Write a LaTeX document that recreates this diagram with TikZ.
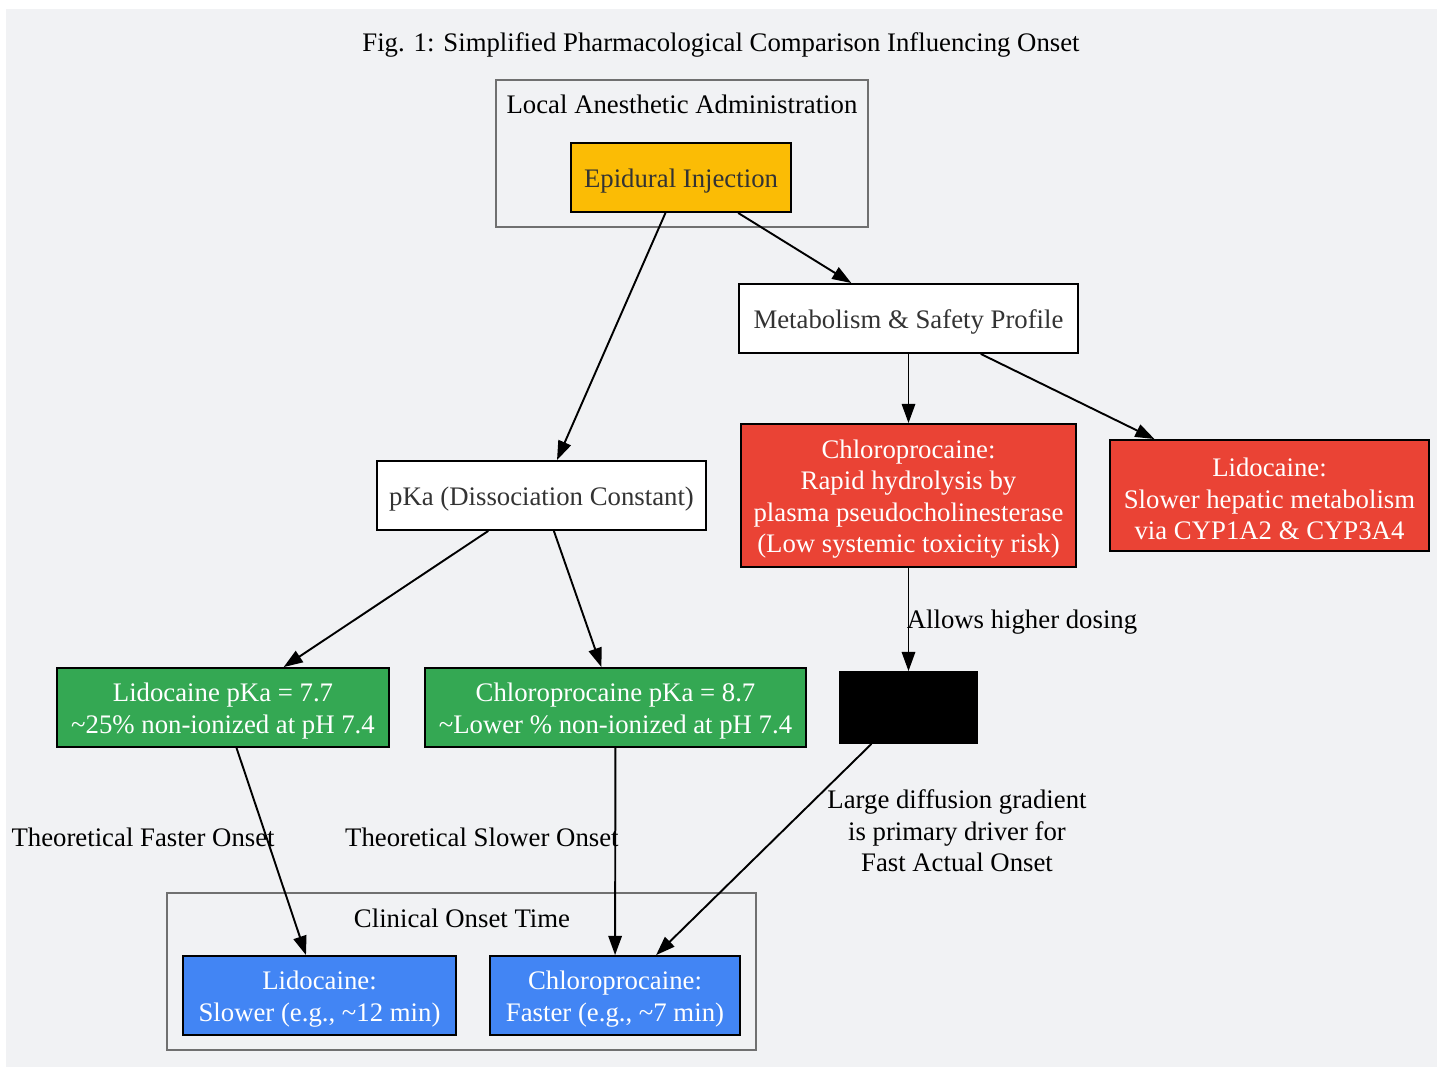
\documentclass[tikz,border=0pt]{standalone}
\usepackage{fontspec}
\setmainfont{Liberation Serif}
\usetikzlibrary{arrows.meta}
\definecolor{bggray}{HTML}{F1F2F4}
\definecolor{clgray}{HTML}{707070}
\definecolor{dtext}{HTML}{333333}
\definecolor{gyellow}{HTML}{FBBC05}
\definecolor{gred}{HTML}{EA4335}
\definecolor{ggreen}{HTML}{34A853}
\definecolor{gblue}{HTML}{4285F4}
% taller first line, so box texts sit a little lower
\newcommand{\hstrut}{\rule{0pt}{13.5pt}}

\begin{document}
\begin{tikzpicture}[x=0.5232pt,y=-0.5232pt,
    font=\fontsize{14}{16.5}\selectfont,
    box/.style={draw=black,line width=1pt,inner sep=0pt,align=center,text=dtext},
    colbox/.style={box,text=white},
    cluster/.style={draw=clgray,line width=1pt},
    lbl/.style={inner sep=0pt,align=center,text=black},
    arr/.style={-{Triangle[length=10pt,width=7pt]},line width=1pt}]
  \useasboundingbox (0,0) rectangle (1445,1067);
  \fill[bggray] (6,9) rectangle (1437,1067);

  \node[lbl] (title) at (721,45) {Fig. 1: Simplified Pharmacological Comparison Influencing Onset};

  % clusters
  \draw[cluster] (496,80) rectangle (868,227);
  \node[lbl] (admin) at (682,104) {Local Anesthetic Administration};
  \draw[cluster] (167,893) rectangle (756,1050);
  \node[lbl] (clin) at (462,918) {Clinical Onset Time};

  % nodes
  \node[box,fill=gyellow,minimum width=115.1pt,minimum height=36.1pt] (epi) at (681,177.5) {\hstrut Epidural Injection};
  \node[box,fill=white,minimum width=177.4pt,minimum height=36.1pt] (meta) at (908.5,318.5) {\hstrut Metabolism \& Safety Profile};
  \node[box,fill=white,minimum width=172.1pt,minimum height=36.1pt] (pka) at (541.5,495.5) {\hstrut pKa (Dissociation Constant)};
  \node[colbox,fill=gred,minimum width=175.3pt,minimum height=74.8pt] (chlmeta) at (908.5,495.5)
    {\hstrut Chloroprocaine:\\Rapid hydrolysis by\\plasma pseudocholinesterase\\(Low systemic toxicity risk)};
  \node[colbox,fill=gred,minimum width=166.9pt,minimum height=58.1pt] (lidmeta) at (1269.5,495.5)
    {\hstrut Lidocaine:\\Slower hepatic metabolism\\via CYP1A2 \& CYP3A4};
  \node[box,fill=black,minimum width=71.7pt,minimum height=37.1pt] (dose) at (908.5,707.5) {};
  \node[colbox,fill=ggreen,minimum width=173.7pt,minimum height=41.3pt] (lidpka) at (223,707.5)
    {\hstrut Lidocaine pKa = 7.7\\\textasciitilde25\% non-ionized at pH 7.4};
  \node[colbox,fill=ggreen,minimum width=199.3pt,minimum height=41.3pt] (chlpka) at (615.5,707.5)
    {\hstrut Chloroprocaine pKa = 8.7\\\textasciitilde Lower \% non-ionized at pH 7.4};
  \node[colbox,fill=gblue,minimum width=142.8pt,minimum height=41.3pt] (lidon) at (319.5,995.5)
    {\hstrut Lidocaine:\\Slower (e.g., \textasciitilde12 min)};
  \node[colbox,fill=gblue,minimum width=130.8pt,minimum height=41.3pt] (chlon) at (615,995.5)
    {\hstrut Chloroprocaine:\\Faster (e.g., \textasciitilde7 min)};

  % edge labels
  \node[lbl] (ldose) at (1022,622) {Allows higher dosing};
  \node[lbl,anchor=east] (lfast) at (275,837) {Theoretical Faster Onset};
  \node[lbl,anchor=east] (lslow) at (619,837) {Theoretical Slower Onset};
  \node[lbl] (lgrad) at (957,831) {Large diffusion gradient\\is primary driver for\\Fast Actual Onset};

  \path[arr]
    (epi) edge (pka)
    (epi) edge (meta)
    (meta) edge (chlmeta)
    (meta) edge (lidmeta)
    (chlmeta) edge (dose)
    (pka) edge (lidpka)
    (pka) edge (chlpka)
    (lidpka) edge (lidon)
    (chlpka) edge (chlon)
    (dose) edge (chlon);
\end{tikzpicture}
\end{document}
